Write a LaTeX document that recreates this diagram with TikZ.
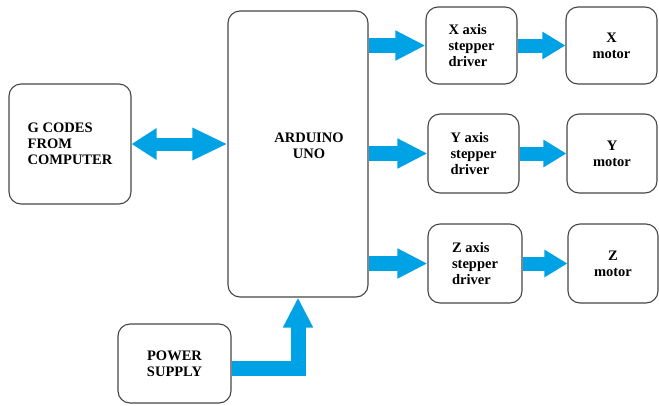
\documentclass[tikz,border=0pt]{standalone}
\usepackage{fontspec}
\setmainfont{Liberation Serif}
\usetikzlibrary{positioning}
\usetikzlibrary{arrows.meta}
\definecolor{flow}{RGB}{0,162,230}
\definecolor{edge}{RGB}{70,70,70}
\tikzset{blk/.style={draw=edge, line width=1.1pt, rounded corners=12pt, fill=white, inner sep=0pt,
  font=\rmfamily\bfseries\fontsize{14.5}{16}\selectfont}}
\tikzset{big/.style={draw=flow, line width=15pt, -{Triangle[length=30pt,width=28pt]}}}
\tikzset{small/.style={draw=flow, line width=14pt, -{Triangle[length=23pt,width=26pt]}}}

\begin{document}
\begin{tikzpicture}[x=1pt,y=-1pt]
\useasboundingbox (0,0) rectangle (659,405);

\node[blk, minimum width=122pt, minimum height=120pt, align=left] (g) at (70,144) {G CODES\\FROM\\COMPUTER};
\node[blk, minimum width=140pt, minimum height=286pt,
  label={[font=\rmfamily\bfseries\fontsize{14.5}{16}\selectfont, align=center, xshift=11pt, yshift=8pt]center:ARDUINO\\UNO}] (ard) at (298,154) {};
\node[blk, minimum width=113pt, minimum height=79pt, align=center] (ps) at (174.5,363.5) {POWER\\SUPPLY};

\node[blk, minimum width=91pt, minimum height=77pt, align=left] (xd) at (471.5,45.5) {X axis\\stepper\\driver};
\node[blk, minimum width=91pt, minimum height=77pt, align=center] (xm) at (611.5,45.5) {X\\motor};
\node[blk, minimum width=91pt, minimum height=79pt, align=left] (yd) at (473.5,153.5) {Y axis\\stepper\\driver};
\node[blk, minimum width=90pt, minimum height=79pt, align=center] (ym) at (612,153.5) {Y\\motor};
\node[blk, minimum width=94pt, minimum height=79pt, align=left] (zd) at (475,263.5) {Z axis\\stepper\\driver};
\node[blk, minimum width=90pt, minimum height=79pt, align=center] (zm) at (613,263.5) {Z\\motor};

\draw[draw=flow, line width=13pt, {Triangle[length=25pt,width=30pt]}-{Triangle[length=35pt,width=30pt]}]
  (g.east) -- (g.east -| ard.west);

\draw[big] (xd.west -| ard.east) -- (xd.west);
\draw[big] (yd.west -| ard.east) -- (yd.west);
\draw[big] (zd.west -| ard.east) -- (zd.west);

\draw[small] (xd) -- (xm);
\draw[small] (yd) -- (ym);
\draw[small] (zd) -- (zm);

\draw[big, line join=miter] ([yshift=-5pt]ps.east) -| (ard.south);

\end{tikzpicture}
\end{document}
